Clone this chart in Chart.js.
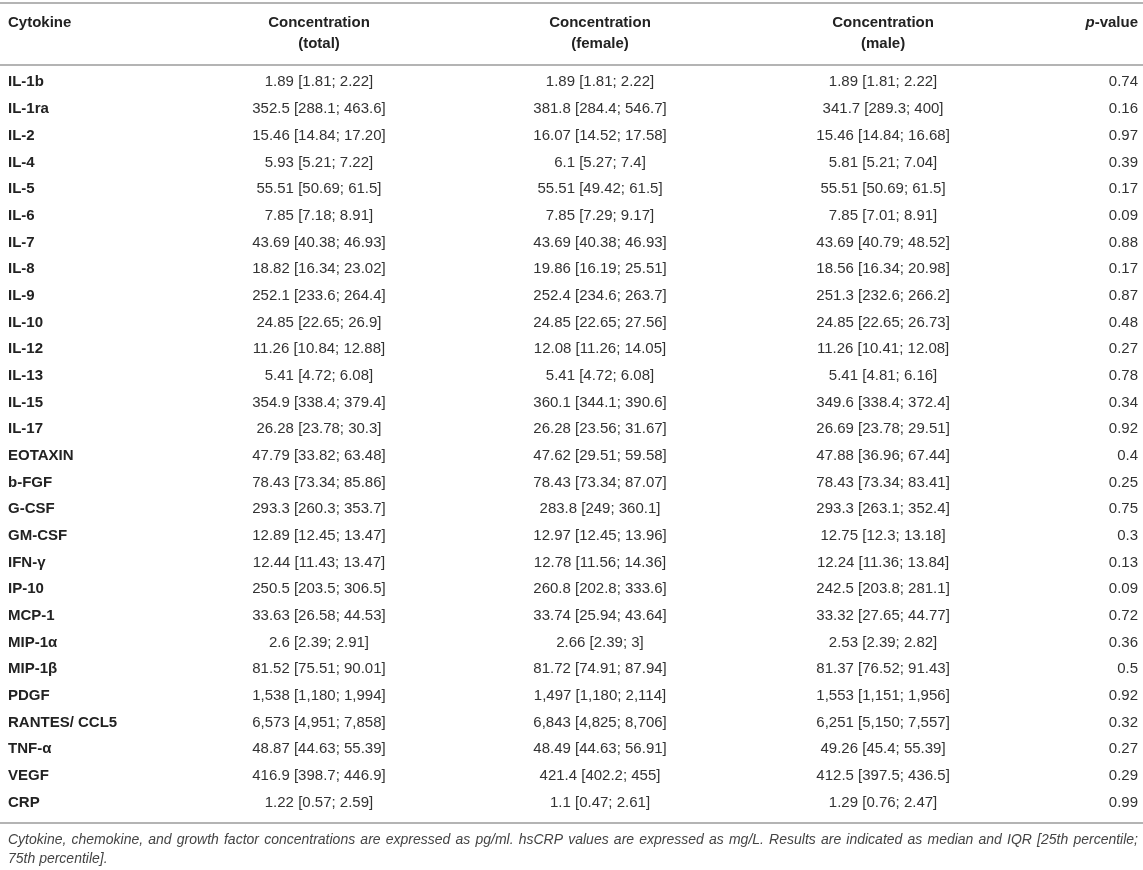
<!DOCTYPE html>
<html>
<head>
<meta charset="utf-8">
<script src="https://cdn.jsdelivr.net/npm/chart.js@4.4.1/dist/chart.umd.min.js"></script>
<style>
  html, body { margin: 0; padding: 0; background: #fff; }
  .wrap { width: 1143px; height: 870px; }
</style>
</head>
<body>
<div class="wrap"><canvas id="table"></canvas></div>
<script>
const cytokines = ['IL-1b', 'IL-1ra', 'IL-2', 'IL-4', 'IL-5', 'IL-6', 'IL-7', 'IL-8', 'IL-9', 'IL-10',
  'IL-12', 'IL-13', 'IL-15', 'IL-17', 'EOTAXIN', 'b-FGF', 'G-CSF', 'GM-CSF', 'IFN-γ', 'IP-10',
  'MCP-1', 'MIP-1α', 'MIP-1β', 'PDGF', 'RANTES/ CCL5', 'TNF-α', 'VEGF', 'CRP'];

const totalConc = ['1.89 [1.81; 2.22]', '352.5 [288.1; 463.6]', '15.46 [14.84; 17.20]', '5.93 [5.21; 7.22]',
  '55.51 [50.69; 61.5]', '7.85 [7.18; 8.91]', '43.69 [40.38; 46.93]', '18.82 [16.34; 23.02]',
  '252.1 [233.6; 264.4]', '24.85 [22.65; 26.9]', '11.26 [10.84; 12.88]', '5.41 [4.72; 6.08]',
  '354.9 [338.4; 379.4]', '26.28 [23.78; 30.3]', '47.79 [33.82; 63.48]', '78.43 [73.34; 85.86]',
  '293.3 [260.3; 353.7]', '12.89 [12.45; 13.47]', '12.44 [11.43; 13.47]', '250.5 [203.5; 306.5]',
  '33.63 [26.58; 44.53]', '2.6 [2.39; 2.91]', '81.52 [75.51; 90.01]', '1,538 [1,180; 1,994]',
  '6,573 [4,951; 7,858]', '48.87 [44.63; 55.39]', '416.9 [398.7; 446.9]', '1.22 [0.57; 2.59]'];

const femaleConc = ['1.89 [1.81; 2.22]', '381.8 [284.4; 546.7]', '16.07 [14.52; 17.58]', '6.1 [5.27; 7.4]',
  '55.51 [49.42; 61.5]', '7.85 [7.29; 9.17]', '43.69 [40.38; 46.93]', '19.86 [16.19; 25.51]',
  '252.4 [234.6; 263.7]', '24.85 [22.65; 27.56]', '12.08 [11.26; 14.05]', '5.41 [4.72; 6.08]',
  '360.1 [344.1; 390.6]', '26.28 [23.56; 31.67]', '47.62 [29.51; 59.58]', '78.43 [73.34; 87.07]',
  '283.8 [249; 360.1]', '12.97 [12.45; 13.96]', '12.78 [11.56; 14.36]', '260.8 [202.8; 333.6]',
  '33.74 [25.94; 43.64]', '2.66 [2.39; 3]', '81.72 [74.91; 87.94]', '1,497 [1,180; 2,114]',
  '6,843 [4,825; 8,706]', '48.49 [44.63; 56.91]', '421.4 [402.2; 455]', '1.1 [0.47; 2.61]'];

const maleConc = ['1.89 [1.81; 2.22]', '341.7 [289.3; 400]', '15.46 [14.84; 16.68]', '5.81 [5.21; 7.04]',
  '55.51 [50.69; 61.5]', '7.85 [7.01; 8.91]', '43.69 [40.79; 48.52]', '18.56 [16.34; 20.98]',
  '251.3 [232.6; 266.2]', '24.85 [22.65; 26.73]', '11.26 [10.41; 12.08]', '5.41 [4.81; 6.16]',
  '349.6 [338.4; 372.4]', '26.69 [23.78; 29.51]', '47.88 [36.96; 67.44]', '78.43 [73.34; 83.41]',
  '293.3 [263.1; 352.4]', '12.75 [12.3; 13.18]', '12.24 [11.36; 13.84]', '242.5 [203.8; 281.1]',
  '33.32 [27.65; 44.77]', '2.53 [2.39; 2.82]', '81.37 [76.52; 91.43]', '1,553 [1,151; 1,956]',
  '6,251 [5,150; 7,557]', '49.26 [45.4; 55.39]', '412.5 [397.5; 436.5]', '1.29 [0.76; 2.47]'];

const pValues = [0.74, 0.16, 0.97, 0.39, 0.17, 0.09, 0.88, 0.17, 0.87, 0.48, 0.27, 0.78, 0.34, 0.92,
  0.4, 0.25, 0.75, 0.3, 0.13, 0.09, 0.72, 0.36, 0.5, 0.92, 0.32, 0.27, 0.29, 0.99];

const headerLines = [['Concentration', '(total)'], ['Concentration', '(female)'], ['Concentration', '(male)']];

const footnote = [
  'Cytokine, chemokine, and growth factor concentrations are expressed as pg/ml. hsCRP values are expressed as mg/L. Results are indicated as median and IQR [25th percentile;',
  '75th percentile].'
];

// layout (not data): column anchors as a fraction of the table width
const colX = { total: 0.2752, female: 0.5239, male: 0.7744, p: 1 };
const tableWidth = 1130;
const labelWidth = 130;
const FONT = '"Liberation Sans", Arial, Helvetica, sans-serif';
const ruleColor = '#b4b4b4';

function column(values, x) {
  return values.map((v, i) => ({ x: x, y: cytokines[i] }));
}

const tablePlugin = {
  id: 'tablePlugin',
  afterDraw(chart) {
    const { ctx, chartArea: { top, bottom }, scales: { x, y } } = chart;
    const W = chart.width;
    const left = y.left;
    const right = x.right;
    ctx.save();

    // rules
    ctx.strokeStyle = ruleColor;
    ctx.lineWidth = 2;
    [3, top - 4, bottom + 7].forEach(yy => {
      ctx.beginPath();
      ctx.moveTo(0, yy);
      ctx.lineTo(W, yy);
      ctx.stroke();
    });

    // header
    ctx.fillStyle = '#222';
    ctx.textBaseline = 'middle';
    ctx.font = `bold 15px ${FONT}`;
    ctx.textAlign = 'left';
    ctx.fillText('Cytokine', left, 23);

    ctx.textAlign = 'center';
    [colX.total, colX.female, colX.male].forEach((cx, k) => {
      headerLines[k].forEach((t, j) => ctx.fillText(t, x.getPixelForValue(cx), 23 + j * 21));
    });

    // p-value header: italic p then bold "-value"
    const px = x.getPixelForValue(colX.p);
    ctx.textAlign = 'right';
    ctx.fillText('-value', px, 23);
    const w = ctx.measureText('-value').width;
    ctx.font = `italic bold 15px ${FONT}`;
    ctx.fillText('p', px - w, 23);

    // body cells, placed on the points of each dataset
    ctx.fillStyle = '#333';
    ctx.font = `15px ${FONT}`;
    chart.data.datasets.forEach((ds, i) => {
      const meta = chart.getDatasetMeta(i);
      ctx.textAlign = ds.align;
      meta.data.forEach((pt, j) => {
        ctx.fillText(String(ds.cells[j]), pt.x, pt.y);
      });
    });

    // footnote, first line justified
    ctx.fillStyle = '#444';
    ctx.font = `italic 14px ${FONT}`;
    ctx.textAlign = 'left';
    const words = footnote[0].split(' ');
    const sum = words.reduce((acc, s) => acc + ctx.measureText(s).width, 0);
    const gap = Math.max(2, (right - left - sum) / (words.length - 1));
    let cx = left;
    words.forEach(s => {
      ctx.fillText(s, cx, bottom + 24);
      cx += ctx.measureText(s).width + gap;
    });
    ctx.fillText(footnote[1], left, bottom + 43);

    ctx.restore();
  }
};

new Chart(document.getElementById('table'), {
  type: 'scatter',
  data: {
    datasets: [
      { label: 'total', data: column(totalConc, colX.total), cells: totalConc, align: 'center' },
      { label: 'female', data: column(femaleConc, colX.female), cells: femaleConc, align: 'center' },
      { label: 'male', data: column(maleConc, colX.male), cells: maleConc, align: 'center' },
      { label: 'p', data: column(pValues, colX.p), cells: pValues, align: 'right' }
    ]
  },
  options: {
    responsive: true,
    maintainAspectRatio: false,
    animation: false,
    events: [],
    elements: { point: { radius: 0, hoverRadius: 0 } },
    layout: { padding: { left: 8, right: 5, top: 69, bottom: 54 } },
    plugins: {
      legend: { display: false },
      tooltip: { enabled: false }
    },
    scales: {
      // 0 sits at the table's left edge, 1 at its right edge
      x: { type: 'linear', min: labelWidth / tableWidth, max: 1, display: false },
      y: {
        type: 'category',
        labels: cytokines,
        offset: true,
        grid: { display: false },
        border: { display: false },
        afterFit(scale) { scale.width = labelWidth; },
        ticks: {
          autoSkip: false,
          crossAlign: 'far',
          padding: 0,
          color: '#222',
          font: { family: FONT, size: 15, weight: 'bold' }
        }
      }
    }
  },
  plugins: [tablePlugin]
});
</script>
</body>
</html>
